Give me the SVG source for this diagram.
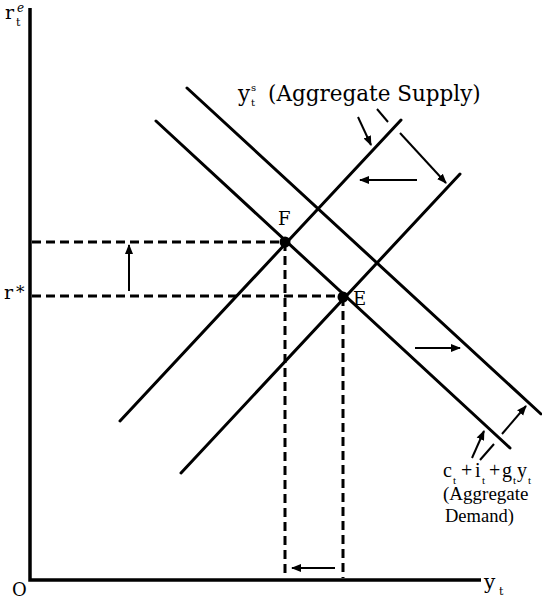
<svg xmlns="http://www.w3.org/2000/svg" width="542" height="602" viewBox="0 0 542 602">
<style>
.ax{stroke:#000;stroke-width:3.5;fill:none}
.cv{stroke:#000;stroke-width:3;fill:none;stroke-linecap:round}
.ds{stroke:#000;stroke-width:3;fill:none;stroke-dasharray:9 5}
.ar{stroke:#000;stroke-width:2;fill:none}
.t{font-family:"DejaVu Serif","Liberation Serif",serif;fill:#000}
.f{font-family:"Liberation Serif","DejaVu Serif",serif;fill:#000}
</style>
<defs>
<marker id="ah" viewBox="0 0 10 10" refX="9" refY="5" markerWidth="5" markerHeight="5" orient="auto" markerUnits="strokeWidth">
<path d="M0,1 L10,5 L0,9 Z" fill="#000"/>
</marker>
</defs>
<g id="axes">
<polyline class="ax" points="30,8 30,580 481,580"/>
<text class="t" font-size="19"><tspan x="5" y="19">r</tspan><tspan x="16" y="26" font-size="11">t</tspan><tspan x="17" y="12" font-size="12" font-style="italic">e</tspan></text>
<text class="t" font-size="19"><tspan x="4" y="299">r</tspan><tspan x="16" y="298" font-size="17">*</tspan></text>
<text class="t" x="12" y="596" font-size="18">O</text>
<text class="t" font-size="20"><tspan x="484" y="589">y</tspan><tspan x="499" y="595" font-size="11">t</tspan></text>
</g>
<g id="connectors">
<line class="ds" x1="32" y1="242" x2="285" y2="242"/>
<line class="ds" x1="32" y1="296" x2="343" y2="296"/>
<line class="ds" x1="285" y1="242" x2="285" y2="578"/>
<line class="ds" x1="343" y1="297" x2="343" y2="578"/>
<line class="ar" x1="129" y1="291" x2="129" y2="245" marker-end="url(#ah)"/>
<line class="ar" x1="335" y1="568" x2="292" y2="568" marker-end="url(#ah)"/>
<line class="ar" x1="417" y1="180" x2="360" y2="180" marker-end="url(#ah)"/>
<line class="ar" x1="415" y1="348" x2="460" y2="348" marker-end="url(#ah)"/>
<line class="ar" x1="358" y1="117" x2="371" y2="145" marker-end="url(#ah)"/>
<line class="ar" x1="377" y1="109" x2="388" y2="122"/>
<line class="ar" x1="400" y1="133" x2="446" y2="183" marker-end="url(#ah)"/>
<line class="ar" x1="472" y1="458" x2="484" y2="431" marker-end="url(#ah)"/>
<line class="ar" x1="480" y1="460" x2="494" y2="444"/>
<line class="ar" x1="502" y1="434" x2="526" y2="406" marker-end="url(#ah)"/>
</g>
<g id="supply1"><line class="cv" x1="120" y1="421" x2="401" y2="120"/></g>
<g id="supply2"><line class="cv" x1="181" y1="473" x2="460" y2="174"/></g>
<g id="demand1"><line class="cv" x1="156" y1="121" x2="510" y2="448"/></g>
<g id="demand2"><line class="cv" x1="187" y1="88" x2="541" y2="414"/></g>
<g id="pointF">
<circle cx="285" cy="242" r="5.5" fill="#000"/>
<text class="t" x="278" y="225" font-size="18">F</text>
</g>
<g id="pointE">
<circle cx="343" cy="297" r="5.5" fill="#000"/>
<text class="t" x="353" y="305" font-size="18">E</text>
</g>
<g id="supplyLabel">
<text class="t" font-size="21.5"><tspan x="238" y="101">y</tspan><tspan x="251" y="106" font-size="10">t</tspan><tspan x="251" y="91" font-size="10">s</tspan><tspan x="268" y="101">(Aggregate Supply)</tspan></text>
</g>
<g id="demandLabel">
<text class="f" font-size="20"><tspan x="443" y="477">c</tspan><tspan x="453" y="484" font-size="11">t</tspan><tspan x="461" y="477">+</tspan><tspan x="475" y="477">i</tspan><tspan x="482" y="484" font-size="11">t</tspan><tspan x="489" y="477">+</tspan><tspan x="502" y="477">g</tspan><tspan x="513" y="484" font-size="11">t</tspan><tspan x="517" y="477">y</tspan><tspan x="528" y="484" font-size="11">t</tspan></text>
<text class="f" x="443" y="500" font-size="19">(Aggregate</text>
<text class="f" x="445" y="522" font-size="18.5">Demand)</text>
</g>
</svg>
